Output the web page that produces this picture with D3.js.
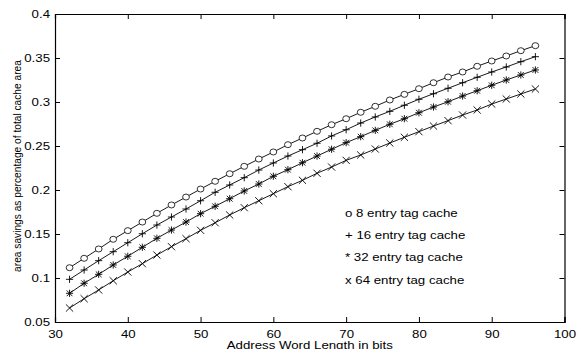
<!DOCTYPE html>
<html>
<head>
<meta charset="utf-8">
<script src="https://cdn.jsdelivr.net/npm/d3@7"></script>
<style>
  body { margin: 0; background: #fff; }
  text { font-family: "Liberation Sans", Arial, sans-serif; fill: #000; }
</style>
</head>
<body>
<div class="chart"></div>
<script>
const bits = d3.range(32, 97, 2);

const tag8 = [0.1117, 0.1224, 0.1330, 0.1440, 0.1538, 0.1636, 0.1735, 0.1830, 0.1920, 0.2011,
  0.2099, 0.2185, 0.2269, 0.2352, 0.2432, 0.2515, 0.2591, 0.2667, 0.2742, 0.2810,
  0.2883, 0.2951, 0.3023, 0.3087, 0.3151, 0.3219, 0.3284, 0.3341, 0.3406,
  0.3466, 0.3523, 0.3583, 0.3640];
const tag16 = [0.0985, 0.1091, 0.1197, 0.1299, 0.1401, 0.1503, 0.1602, 0.1693, 0.1784, 0.1878,
  0.1974, 0.2057, 0.2140, 0.2227, 0.2307, 0.2386, 0.2458, 0.2531, 0.2614, 0.2685,
  0.2761, 0.2830, 0.2894, 0.2963, 0.3031, 0.3094, 0.3156, 0.3219, 0.3281,
  0.3341, 0.3398, 0.3458, 0.3515];
const tag32 = [0.0826, 0.0940, 0.1042, 0.1148, 0.1247, 0.1349, 0.1451, 0.1545, 0.1636, 0.1731,
  0.1815, 0.1901, 0.1989, 0.2068, 0.2156, 0.2231, 0.2310, 0.2386, 0.2463, 0.2538,
  0.2606, 0.2678, 0.2747, 0.2810, 0.2878, 0.2943, 0.3003, 0.3068, 0.3128,
  0.3190, 0.3250, 0.3307, 0.3364];
const tag64 = [0.0659, 0.0765, 0.0864, 0.0969, 0.1068, 0.1163, 0.1261, 0.1356, 0.1447, 0.1542,
  0.1628, 0.1716, 0.1799, 0.1878, 0.1958, 0.2038, 0.2110, 0.2190, 0.2261, 0.2337,
  0.2398, 0.2466, 0.2534, 0.2599, 0.2663, 0.2727, 0.2788, 0.2852, 0.2909,
  0.2977, 0.3034, 0.3091, 0.3148];

const seriesNames = ['o 8 entry tag cache', '+ 16 entry tag cache', '* 32 entry tag cache', 'x 64 entry tag cache'];
const markers = ['circle', 'plus', 'star', 'cross'];
const xTicks = [30, 40, 50, 60, 70, 80, 90, 100];
const yTicks = [0.05, 0.1, 0.15, 0.2, 0.25, 0.3, 0.35, 0.4];

const width = 577;
const height = 349;
const margin = { top: 14, right: 12.5, bottom: 27, left: 55 };
const chart_width = width - margin.left - margin.right;
const chart_height = height - margin.top - margin.bottom;

// the original figure is stretched sideways, so horizontal text is widened
const fontSize = 10.2;
const stretch = 1.3;

const svg = d3.select('.chart')
  .append('svg')
  .attr('width', width)
  .attr('height', height);

const g = svg.append('g')
  .attr('transform', 'translate(' + margin.left + ',' + margin.top + ')');

const x = d3.scaleLinear().domain([30, 100]).range([0, chart_width]);
const y = d3.scaleLinear().domain([0.05, 0.4]).range([chart_height, 0]);

const fmt = d => String(+d.toFixed(2));

// axes with ticks pointing inward, matlab style box
const tickLen = 5;
g.append('g')
  .attr('class', 'axis axis--x')
  .attr('transform', 'translate(0,' + chart_height + ')')
  .call(d3.axisBottom(x).tickValues(xTicks).tickSize(-tickLen).tickPadding(8.8).tickFormat(d3.format('d')));
g.append('g')
  .call(d3.axisTop(x).tickValues(xTicks).tickSize(-tickLen).tickFormat(''));
g.append('g')
  .attr('class', 'axis axis--y')
  .call(d3.axisLeft(y).tickValues(yTicks).tickSize(-tickLen).tickFormat(fmt));
g.append('g')
  .attr('transform', 'translate(' + chart_width + ',0)')
  .call(d3.axisRight(y).tickValues(yTicks).tickSize(-tickLen).tickFormat(''));

g.selectAll('.domain').attr('stroke', '#000').attr('stroke-width', 1.2);
g.selectAll('.tick line').attr('stroke', '#000');
g.selectAll('.tick text')
  .attr('font-size', fontSize)
  .attr('font-family', '"Liberation Sans", Arial, sans-serif')
  .attr('transform', 'scale(' + stretch + ',1)');
g.selectAll('.axis--y .tick text').attr('x', -5 / stretch);

const data = [tag8, tag16, tag32, tag64].map((vals, i) => ({
  name: seriesNames[i],
  marker: markers[i],
  values: bits.map((b, j) => ({ bit: b, v: vals[j] }))
}));

const line = d3.line().x(d => x(d.bit)).y(d => y(d.v));

const series = g.selectAll('.series')
  .data(data)
  .enter()
  .append('g')
  .attr('class', 'series');

series.append('path')
  .attr('d', d => line(d.values))
  .attr('fill', 'none')
  .attr('stroke', '#000')
  .attr('stroke-width', 0.9);

function markerPath(type) {
  const r = 3.6;
  if (type === 'plus') return 'M' + -r + ',0H' + r + 'M0,' + -r + 'V' + r;
  if (type === 'cross') return 'M' + -r + ',' + -r + 'L' + r + ',' + r + 'M' + -r + ',' + r + 'L' + r + ',' + -r;
  if (type === 'star') {
    const a = r * 0.8;
    return 'M' + -r + ',0H' + r + 'M0,' + -r + 'V' + r +
      'M' + -a + ',' + -a + 'L' + a + ',' + a + 'M' + -a + ',' + a + 'L' + a + ',' + -a;
  }
  return null;
}

series.each(function(d) {
  const s = d3.select(this);
  if (d.marker === 'circle') {
    s.selectAll('ellipse')
      .data(d.values)
      .enter()
      .append('ellipse')
      .attr('cx', p => x(p.bit))
      .attr('cy', p => y(p.v))
      .attr('rx', 3.4)
      .attr('ry', 3)
      .attr('fill', '#fff')
      .attr('stroke', '#000')
      .attr('stroke-width', 0.8);
  } else {
    s.selectAll('path.mk')
      .data(d.values)
      .enter()
      .append('path')
      .attr('class', 'mk')
      .attr('transform', p => 'translate(' + x(p.bit) + ',' + y(p.v) + ')')
      .attr('d', markerPath(d.marker))
      .attr('stroke', '#000')
      .attr('stroke-width', 0.9);
  }
});

// legend as plain text lines
g.selectAll('.legend')
  .data(seriesNames)
  .enter()
  .append('text')
  .attr('class', 'legend')
  .attr('transform', (d, i) => 'translate(290,' + (203 + i * 22.2) + ') scale(' + stretch + ',1)')
  .attr('font-size', fontSize)
  .text(d => d);

svg.append('text')
  .attr('transform', 'translate(' + (margin.left + chart_width / 2) + ',348.5) scale(' + stretch + ',1)')
  .attr('text-anchor', 'middle')
  .attr('font-size', fontSize)
  .text('Address Word Length in bits');

svg.append('text')
  .attr('transform', 'translate(20.5,166) rotate(-90)')
  .attr('text-anchor', 'middle')
  .attr('font-size', fontSize)
  .text('area savings as percentage of total cache area');
</script>
</body>
</html>
